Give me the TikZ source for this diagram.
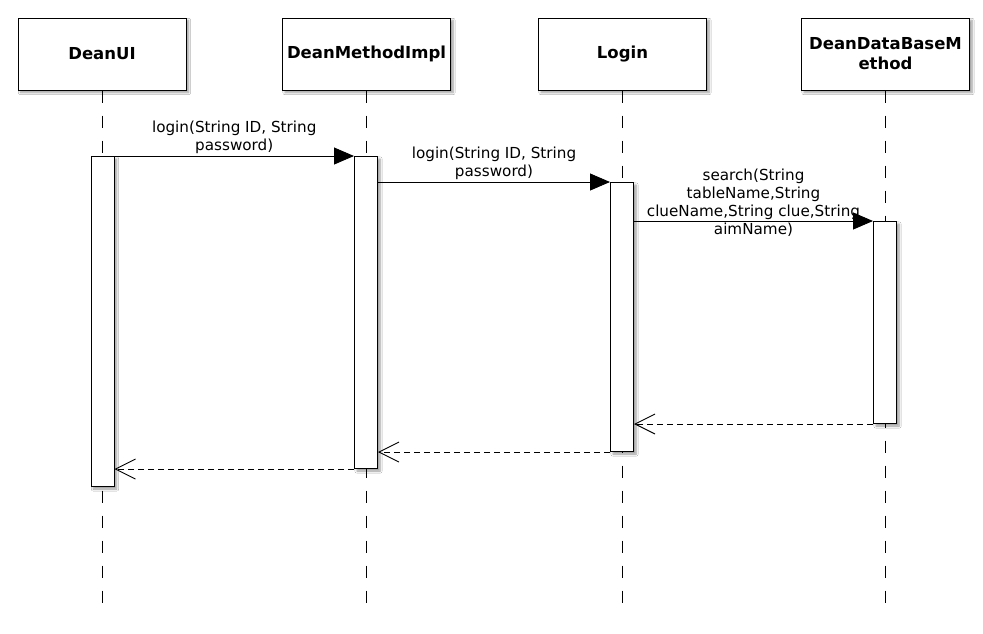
\documentclass[tikz,border=0pt]{standalone}
\usepackage{fontspec}
\setmainfont{DejaVu Sans}
\usetikzlibrary{arrows.meta,shadows.blur}

\begin{document}
\begin{tikzpicture}[x=1pt,y=-1pt,
  softshadow/.style={blur shadow={shadow xshift=2.5pt,shadow yshift=-2.5pt,shadow blur steps=6,shadow opacity=40}},
  head/.style={draw,fill=white,line width=1pt,minimum width=168pt,minimum height=72pt,
    inner sep=0pt,text width=164pt,align=center,font=\fontsize{16.5}{20}\selectfont\bfseries,softshadow},
  act/.style={draw,fill=white,line width=1pt,minimum width=23pt,inner sep=0pt,anchor=north,softshadow},
  lifeline/.style={line width=0.9pt,dash pattern=on 12pt off 13pt},
  msg/.style={font=\fontsize{15.2}{18}\selectfont,align=center,inner sep=1pt},
  call/.style={line width=0.9pt,-{Triangle[length=20pt,width=17pt]}},
  ret/.style={line width=0.9pt,dash pattern=on 6pt off 4pt,-{Straight Barb[length=20pt,width=20pt,line width=0.9pt]}}
]
\useasboundingbox[fill=white] (0,0) rectangle (983,633);

% participants
\node[head] (h1) at (102,54) {DeanUI};
\node[head] (h2) at (366.5,54) {DeanMethodImpl};
\node[head] (h3) at (622.5,54) {Login};
\node[head] (h4) at (885.5,54) {DeanDataBaseM\\ethod};

% lifeline ends
\coordinate (e1) at (102,607);
\coordinate (e2) at (366.5,607);
\coordinate (e3) at (622.5,607);
\coordinate (e4) at (885.5,607);

\draw[lifeline] (h1.south) -- (e1);
\draw[lifeline] (h2.south) -- (e2);
\draw[lifeline] (h3.south) -- (e3);
\draw[lifeline] (h4.south) -- (e4);

% activation bars
\node[act,minimum height=330pt] (a1) at (102.5,156) {};
\node[act,minimum height=312pt] (a2) at (366,156) {};
\node[act,minimum height=269pt] (a3) at (622,182) {};
\node[act,minimum height=202pt] (a4) at (885,221) {};

% calls
\draw[call] (a1.north east) -- node[msg,above=1pt] {login(String ID, String\\password)} (a2.north west);
\draw[call] (a2.east |- a3.north) -- node[msg,above=1pt] {login(String ID, String\\password)} (a3.north west);
\draw[call] (a3.east |- a4.north) -- node[msg,yshift=18pt] {search(String\\tableName,String\\clueName,String clue,String\\aimName)} (a4.north west);

% returns
\draw[ret] (a4.south west) -- (a4.south west -| a3.east);
\draw[ret] (a3.south west) -- (a3.south west -| a2.east);
\draw[ret] (a2.south west) -- (a2.south west -| a1.east);
\end{tikzpicture}
\end{document}
